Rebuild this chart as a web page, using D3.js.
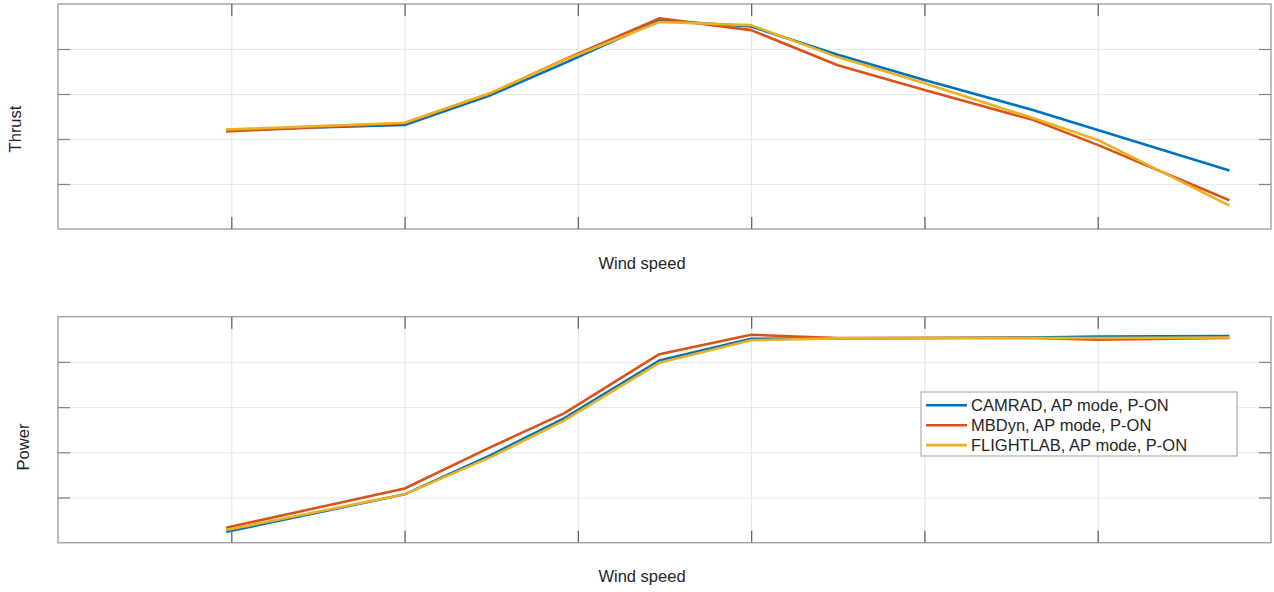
<!DOCTYPE html>
<html>
<head>
<meta charset="utf-8">
<script src="https://cdn.jsdelivr.net/npm/d3@7"></script>
<style>
  body { margin: 0; background: #fff; }
  text { font-family: "Liberation Sans", Arial, sans-serif; fill: #262626; }
</style>
</head>
<body>
<svg id="chart" width="1274" height="592"></svg>
<script>
// wind speed positions (in tick units, labels are hidden in the original)
const windSpeed = [0.97, 2, 2.5, 2.92, 3.47, 4, 4.5, 5, 5.63, 6, 6.76];
const xTicks = [1, 2, 3, 4, 5, 6];
const yTicks = [1, 2, 3, 4];

// Thrust (top panel)
const thrustCamrad    = [2.20, 2.31, 2.98, 3.68, 4.64, 4.50, 3.87, 3.31, 2.64, 2.20, 1.30];
const thrustMbdyn     = [2.17, 2.35, 3.02, 3.76, 4.68, 4.42, 3.64, 3.09, 2.42, 1.87, 0.64];
const thrustFlightlab = [2.21, 2.36, 3.03, 3.75, 4.60, 4.53, 3.82, 3.24, 2.46, 1.98, 0.52];

// Power (bottom panel)
const powerCamrad    = [0.24, 1.07, 1.94, 2.75, 4.03, 4.51, 4.52, 4.53, 4.54, 4.56, 4.57];
const powerMbdyn     = [0.33, 1.20, 2.12, 2.86, 4.17, 4.60, 4.53, 4.53, 4.53, 4.49, 4.53];
const powerFlightlab = [0.28, 1.07, 1.90, 2.70, 3.98, 4.48, 4.52, 4.53, 4.53, 4.53, 4.54];

const seriesNames = ["CAMRAD, AP mode, P-ON", "MBDyn, AP mode, P-ON", "FLIGHTLAB, AP mode, P-ON"];
const colors = ["#0072BD", "#D95319", "#EDB120"];

const svg = d3.select("#chart");

const left = 58, right = 1271;
const x = d3.scaleLinear().domain([0, 7]).range([left, right]);

function panel(top, bottom, series, yLabel, labelPos, xLabelY) {
  const y = d3.scaleLinear().domain([0, 5]).range([bottom, top]);
  const g = svg.append("g");
  const h = bottom - top;

  // grid
  g.append("g")
    .attr("transform", "translate(0," + bottom + ")")
    .call(d3.axisBottom(x).tickValues(xTicks).tickSize(-h).tickFormat(""))
    .call(s => s.select(".domain").remove())
    .selectAll("line").attr("stroke", "#e3e3e3").attr("stroke-width", 1);
  g.append("g")
    .attr("transform", "translate(" + left + ",0)")
    .call(d3.axisLeft(y).tickValues(yTicks).tickSize(-(right - left)).tickFormat(""))
    .call(s => s.select(".domain").remove())
    .selectAll("line").attr("stroke", "#e8e8e8").attr("stroke-width", 1);

  // lines
  const line = d3.line().x((d, i) => x(windSpeed[i])).y(d => y(d));
  series.forEach((vals, k) => {
    g.append("path")
      .datum(vals)
      .attr("d", line)
      .attr("fill", "none")
      .attr("stroke", colors[k])
      .attr("stroke-width", 2.6)
      .attr("stroke-linejoin", "round");
  });

  // box
  g.append("rect")
    .attr("x", left).attr("y", top)
    .attr("width", right - left).attr("height", h)
    .attr("fill", "none").attr("stroke", "#a6a6a6").attr("stroke-width", 1.5);

  // inward ticks
  const tick = 12;
  g.append("g").attr("transform", "translate(0," + bottom + ")")
    .call(d3.axisBottom(x).tickValues(xTicks).tickSize(-tick).tickFormat(""))
    .call(s => s.select(".domain").remove())
    .selectAll("line").attr("stroke", "#666").attr("stroke-width", 1.3);
  g.append("g").attr("transform", "translate(0," + top + ")")
    .call(d3.axisTop(x).tickValues(xTicks).tickSize(-tick).tickFormat(""))
    .call(s => s.select(".domain").remove())
    .selectAll("line").attr("stroke", "#666").attr("stroke-width", 1.3);
  g.append("g").attr("transform", "translate(" + left + ",0)")
    .call(d3.axisLeft(y).tickValues(yTicks).tickSize(-tick).tickFormat(""))
    .call(s => s.select(".domain").remove())
    .selectAll("line").attr("stroke", "#888").attr("stroke-width", 1.3);
  g.append("g").attr("transform", "translate(" + right + ",0)")
    .call(d3.axisRight(y).tickValues(yTicks).tickSize(-tick).tickFormat(""))
    .call(s => s.select(".domain").remove())
    .selectAll("line").attr("stroke", "#888").attr("stroke-width", 1.3);

  // labels
  g.append("text")
    .attr("transform", "translate(" + labelPos[0] + "," + labelPos[1] + ") rotate(-90)")
    .attr("text-anchor", "middle")
    .style("font-size", "16.5px")
    .text(yLabel);
  g.append("text")
    .attr("x", 642).attr("y", xLabelY)
    .attr("text-anchor", "middle")
    .style("font-size", "16.5px")
    .text("Wind speed");

  return y;
}

panel(4, 229, [thrustCamrad, thrustMbdyn, thrustFlightlab], "Thrust", [21, 129], 269);
panel(316.7, 542.7, [powerCamrad, powerMbdyn, powerFlightlab], "Power", [29, 447], 582);

// legend
const lg = svg.append("g");
lg.append("rect")
  .attr("x", 921).attr("y", 392).attr("width", 316).attr("height", 64)
  .attr("fill", "#fff").attr("stroke", "#b0b0b0").attr("stroke-width", 1.2);
seriesNames.forEach((name, k) => {
  const ry = 405.3 + k * 19.9;
  lg.append("line")
    .attr("x1", 926).attr("x2", 967).attr("y1", ry).attr("y2", ry)
    .attr("stroke", colors[k]).attr("stroke-width", 2.6);
  lg.append("text")
    .attr("x", 971).attr("y", ry).attr("dy", "0.35em")
    .style("font-size", "16.5px")
    .text(name);
});
</script>
</body>
</html>
